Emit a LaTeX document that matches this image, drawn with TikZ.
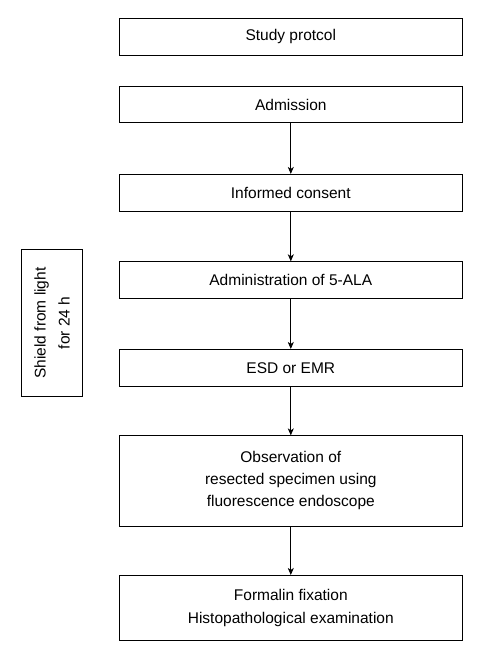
\documentclass[tikz,border=0pt]{standalone}
\usepackage{fontspec}
\setmainfont{Liberation Sans}
\usetikzlibrary{arrows.meta}
\usetikzlibrary{positioning}

\begin{document}
\begin{tikzpicture}[x=1pt,y=-1pt]
\tikzset{
    flowbox/.style={
        draw, line width=0.8pt,
        minimum width=343pt, inner sep=0pt,
        align=center, font=\fontsize{15.5}{22}\selectfont
    },
    flowarrow/.style={line width=0.8pt, -{Stealth[length=7pt,width=6pt,inset=2pt]}},
}
  \useasboundingbox (0,0) rectangle (483,662);

  % main column
  \node[flowbox, minimum height=36.7pt] (protocol)  at (290.8,36.7)  {Study protcol};
  \node[flowbox, minimum height=35.6pt] (admission) at (290.8,104.5) {Admission};
  \node[flowbox, minimum height=37.4pt] (consent)   at (290.8,193)   {Informed consent};
  \node[flowbox, minimum height=36.6pt] (ala)       at (290.8,280)   {Administration of 5-ALA};
  \node[flowbox, minimum height=36.7pt] (esd)       at (290.8,367.7) {ESD or EMR};
  \node[flowbox, minimum height=90.3pt] (observe)   at (290.8,480.9)
      {Observation of\\resected specimen using\\fluorescence endoscope};
  \node[flowbox, minimum height=64.7pt, font=\fontsize{15.5}{23}\selectfont] (fixation) at (290.8,607.7)
      {Formalin fixation\\Histopathological examination};

  % side note
  \node[flowbox, rotate=90, minimum width=147.4pt, minimum height=60.6pt,
        font=\fontsize{15.5}{24}\selectfont] (shield) at (52,323)
      {Shield from light\\for 24 h};

  \draw[flowarrow] (admission) -- (consent);
  \draw[flowarrow] (consent) -- (ala);
  \draw[flowarrow] (ala) -- (esd);
  \draw[flowarrow] (esd) -- (observe);
  \draw[flowarrow] (observe) -- (fixation);
\end{tikzpicture}
\end{document}
